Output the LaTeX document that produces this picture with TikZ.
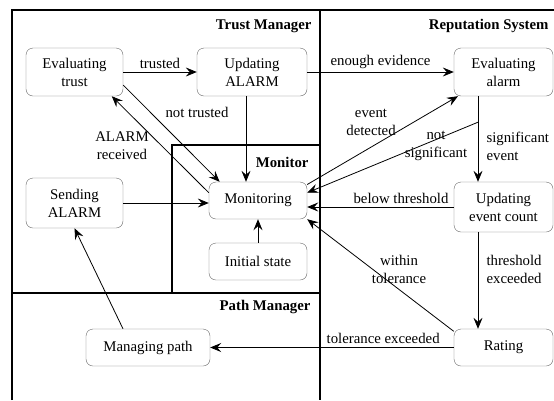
\documentclass[tikz,border=0pt]{standalone}
\usepackage{fontspec}
\setmainfont{Liberation Serif}
\usetikzlibrary{calc}
\usetikzlibrary{arrows.meta}

\newcommand{\diagfont}{\fontsize{14.8}{18}\selectfont}

\tikzset{
	state/.style={draw=black!60, rounded corners=7pt, align=center, inner sep=0pt},
	frame/.style={line width=2.4pt},
	title/.style={font=\diagfont\bfseries, anchor=east},
	flow/.style={line width=0.8pt, -{Stealth[length=11pt, width=9pt, inset=4pt]}}
}

\begin{document}
\begin{tikzpicture}[x=1pt, y=-1pt, font=\diagfont]
			\useasboundingbox (0, 0) rectangle (554, 400);

			% areas
			\draw[frame] (12, 400)--(12, 10)--(554, 10);
			\draw[frame] (320, 10)--(320, 400);
			\draw[frame] (12, 293)--(320, 293);
			\draw[frame] (320, 145)--(172, 145)--(172, 293);

			\node[title] (trustmgr) at (315, 26) {Trust Manager};
			\node[title] (repsys) at (552, 26) {Reputation System};
			\node[title] (monitor) at (312, 162) {Monitor};
			\node[title] (pathmgr) at (314, 307) {Path Manager};

			% states
			\node[state, minimum width=97pt, minimum height=48pt] (evaltrust) at (74.5, 72) {Evaluating\\trust};
			\node[state, minimum width=110pt, minimum height=48pt] (updalarm) at (252, 72) {Updating\\ALARM};
			\node[state, minimum width=99pt, minimum height=48pt] (evalalarm) at (503.5, 72) {Evaluating\\alarm};
			\node[state, minimum width=97pt, minimum height=50pt] (sendalarm) at (74.5, 203) {Sending\\ALARM};
			\node[state, minimum width=98pt, minimum height=37pt] (monitoring) at (258, 200.5) {Monitoring};
			\node[state, minimum width=98pt, minimum height=37pt] (initstate) at (258, 261.5) {Initial state};
			\node[state, minimum width=99pt, minimum height=50pt] (updcount) at (503.5, 207) {Updating\\event count};
			\node[state, minimum width=99pt, minimum height=37pt] (rating) at (503.5, 347.5) {Rating};
			\node[state, minimum width=124pt, minimum height=37pt] (managing) at (148, 347.5) {Managing path};

			% transitions
			\draw[flow] (evaltrust)--node[above] (ltrusted) {trusted} (updalarm);
			\draw[flow] (updalarm)--node[above] (lenough) {enough evidence} (evalalarm);

			\draw[flow] (evaltrust.-15)--(monitoring.154);
			\node (lnottrusted) at (197, 112) {not trusted};
			\draw[flow] (monitoring.171)--(evaltrust.-33);
			\node[align=center] (lreceived) at (122, 146) {ALARM\\received};

			\coordinate (ua) at ($(updalarm.south)+(-6, 0)$);
			\draw[flow] (ua)--(ua |- monitoring.north);
			\draw[flow] (sendalarm.east)--(sendalarm.east -| monitoring.west);
			\draw[flow] (initstate)--(monitoring);

			\draw[flow] (monitoring.18)--(evalalarm.208);
			\node[align=center] (ldetected) at (371, 122) {event\\detected};

			\coordinate (ea) at ($(evalalarm.south)+(-25.5, 0)$);
			\coordinate (branch) at ($(ea)+(0, 26)$);
			\draw[flow] (ea)--(ea |- updcount.north);
			\draw[flow] (branch)--(monitoring.9);
			\node[align=center] (lnotsig) at (436, 146) {not\\significant};
			\node[align=left, anchor=west] (lsig) at (483, 146) {significant\\event};

			\draw[flow] (updcount.west)--node[above, pos=0.36] (lbelow) {below threshold} (updcount.west -| monitoring.east);

			\coordinate (ec) at ($(updcount.south)+(-25.5, 0)$);
			\draw[flow] (ec)--(ec |- rating.north);
			\node[align=left, anchor=west] (lexceeded) at (483, 269) {threshold\\exceeded};

			\draw[flow] (rating.162)--(monitoring.south east);
			\node[align=center] (lwithin) at (399, 269) {within\\tolerance};

			\draw[flow] (rating)--node[above, pos=0.29] (ltolexc) {tolerance exceeded} (managing);
			\draw[flow] ($(managing.north)+(-25, 0)$)--(sendalarm.south);
		\end{tikzpicture}
\end{document}
